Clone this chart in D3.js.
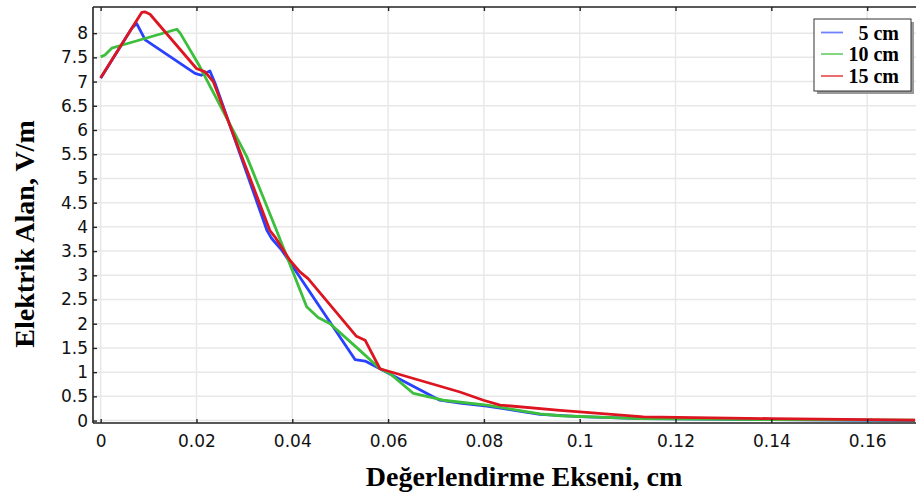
<!DOCTYPE html>
<html>
<head>
<meta charset="utf-8">
<script src="https://cdn.jsdelivr.net/npm/d3@7"></script>
<style>
  html, body { margin: 0; padding: 0; background: #fff; }
  svg { display: block; }
</style>
</head>
<body>
<svg id="chart" width="916" height="493"></svg>
<script>
// ---- data ----
const seriesNames = ["5 cm", "10 cm", "15 cm"];
const xTicks = [0, 0.02, 0.04, 0.06, 0.08, 0.1, 0.12, 0.14, 0.16];
const yTicks = [0, 0.5, 1, 1.5, 2, 2.5, 3, 3.5, 4, 4.5, 5, 5.5, 6, 6.5, 7, 7.5, 8];

const blueX = [0, 0.0065, 0.0075, 0.0093, 0.0197, 0.021, 0.0228, 0.0239, 0.0347, 0.0357, 0.0378, 0.0531, 0.0552, 0.0583, 0.0708, 0.075, 0.0806, 0.0917, 0.1, 0.113, 0.14, 0.17];
const blueY = [7.07, 8.10, 8.20, 7.86, 7.17, 7.13, 7.22, 6.96, 3.93, 3.76, 3.52, 1.26, 1.23, 1.07, 0.42, 0.36, 0.30, 0.13, 0.08, 0.04, 0.02, 0.0];

const greenX = [0, 0.0009, 0.0023, 0.004, 0.0159, 0.0166, 0.0207, 0.0305, 0.035, 0.0367, 0.043, 0.0454, 0.0479, 0.0541, 0.0583, 0.0604, 0.0653, 0.0715, 0.0806, 0.0917, 0.0959, 0.1126, 0.14, 0.17];
const greenY = [7.51, 7.55, 7.69, 7.74, 8.08, 8.0, 7.31, 5.45, 4.35, 3.93, 2.35, 2.13, 2.0, 1.45, 1.07, 0.97, 0.56, 0.42, 0.32, 0.14, 0.10, 0.04, 0.02, 0.01];

const redX = [0, 0.0086, 0.0092, 0.0103, 0.02, 0.0218, 0.0235, 0.0353, 0.0364, 0.0395, 0.0416, 0.0433, 0.0534, 0.0552, 0.0583, 0.075, 0.0799, 0.0834, 0.0959, 0.1, 0.1133, 0.14, 0.17];
const redY = [7.08, 8.43, 8.44, 8.39, 7.27, 7.2, 7.0, 3.93, 3.79, 3.31, 3.07, 2.93, 1.74, 1.66, 1.07, 0.59, 0.42, 0.32, 0.21, 0.18, 0.075, 0.04, 0.01];

const colors = ["#2a40ff", "#3cbf3c", "#dd1520"];
const legendColors = ["#6f82ff", "#74d474", "#ea5c5c"];

// ---- layout ----
const svg = d3.select("#chart");
const mLeft = 93, mRight = 916, mTop = 7, mBottom = 423;

const x = d3.scaleLinear().domain([-0.0016, 0.1702]).range([mLeft, mRight]);
const y = d3.scaleLinear().domain([-0.05, 8.54]).range([mBottom, mTop]);

// grid
const grid = svg.append("g").attr("stroke", "#e8e8e8").attr("stroke-width", 1.5);
grid.selectAll("line.v").data(xTicks).enter().append("line").attr("class", "v")
  .attr("x1", d => x(d)).attr("x2", d => x(d)).attr("y1", mTop).attr("y2", mBottom);
grid.selectAll("line.h").data(yTicks).enter().append("line").attr("class", "h")
  .attr("x1", mLeft).attr("x2", mRight).attr("y1", d => y(d)).attr("y2", d => y(d));

// lines
const series = [
  {xs: blueX, ys: blueY},
  {xs: greenX, ys: greenY},
  {xs: redX, ys: redY}
];
const line = d3.line().x(d => x(d[0])).y(d => y(d[1]));
svg.append("defs").append("clipPath").attr("id", "clip")
  .append("rect").attr("x", mLeft).attr("y", mTop).attr("width", mRight - mLeft).attr("height", mBottom - mTop);
const lg = svg.append("g").attr("clip-path", "url(#clip)");
series.forEach((s, i) => {
  const pts = s.xs.map((v, j) => [v, s.ys[j]]);
  lg.append("path").datum(pts).attr("d", line)
    .attr("fill", "none").attr("stroke", colors[i]).attr("stroke-width", 2.8)
    .attr("stroke-linejoin", "round");
});

// axes
const tickFont = "'DejaVu Sans', sans-serif";
const xAxis = d3.axisBottom(x).tickValues(xTicks).tickFormat(d => String(+d.toFixed(2)))
  .tickSizeInner(-4).tickSizeOuter(0).tickPadding(12);
const gx = svg.append("g").attr("transform", `translate(0,${mBottom})`).call(xAxis);
const yAxis = d3.axisLeft(y).tickValues(yTicks).tickFormat(d => String(d))
  .tickSizeInner(-4).tickSizeOuter(0).tickPadding(5);
const gy = svg.append("g").attr("transform", `translate(${mLeft},0)`).call(yAxis);
const xTop = d3.axisTop(x).tickValues(xTicks).tickFormat("").tickSizeInner(-4).tickSizeOuter(0);
const gt = svg.append("g").attr("transform", `translate(0,${mTop})`).call(xTop);

[gx, gy, gt].forEach(g => {
  g.select(".domain").attr("stroke", "#222").attr("stroke-width", 1.6);
  g.selectAll(".tick line").attr("stroke", "#222").attr("stroke-width", 1.4);
  g.selectAll(".tick text").attr("font-family", tickFont).attr("font-size", 17).attr("fill", "#111");
});
gy.select(".domain").attr("d", `M0,${mTop}V${mBottom}`);
gx.select(".domain").attr("d", `M${mLeft},0H${mRight}`);
gt.select(".domain").attr("d", `M${mLeft},0H${mRight}`);

// axis titles
const titleFont = "'Liberation Serif', 'Times New Roman', serif";
svg.append("text").attr("x", 524).attr("y", 486).attr("text-anchor", "middle")
  .attr("font-family", titleFont).attr("font-weight", "bold").attr("font-size", 28).attr("fill", "#000")
  .text("Değerlendirme Ekseni, cm");
svg.append("text").attr("transform", "translate(34,234) rotate(-90)").attr("text-anchor", "middle")
  .attr("font-family", titleFont).attr("font-weight", "bold").attr("font-size", 28).attr("fill", "#000")
  .text("Elektrik Alan, V/m");

// legend
const lx = 814, ly = 19, lw = 97, lh = 72;
svg.append("rect").attr("x", lx + 3).attr("y", ly + 3).attr("width", lw).attr("height", lh).attr("fill", "#9a9a9a");
svg.append("rect").attr("x", lx).attr("y", ly).attr("width", lw).attr("height", lh)
  .attr("fill", "#fff").attr("stroke", "#333").attr("stroke-width", 1);
const rowY = [32.5, 54, 76];
seriesNames.forEach((name, i) => {
  svg.append("line").attr("x1", 821).attr("x2", 843).attr("y1", rowY[i]).attr("y2", rowY[i])
    .attr("stroke", legendColors[i]).attr("stroke-width", 1.8);
  svg.append("text").attr("x", 899).attr("y", rowY[i] + 7).attr("text-anchor", "end")
    .attr("font-family", titleFont).attr("font-weight", "bold").attr("font-size", 20).attr("fill", "#000")
    .text(name);
});
</script>
</body>
</html>
